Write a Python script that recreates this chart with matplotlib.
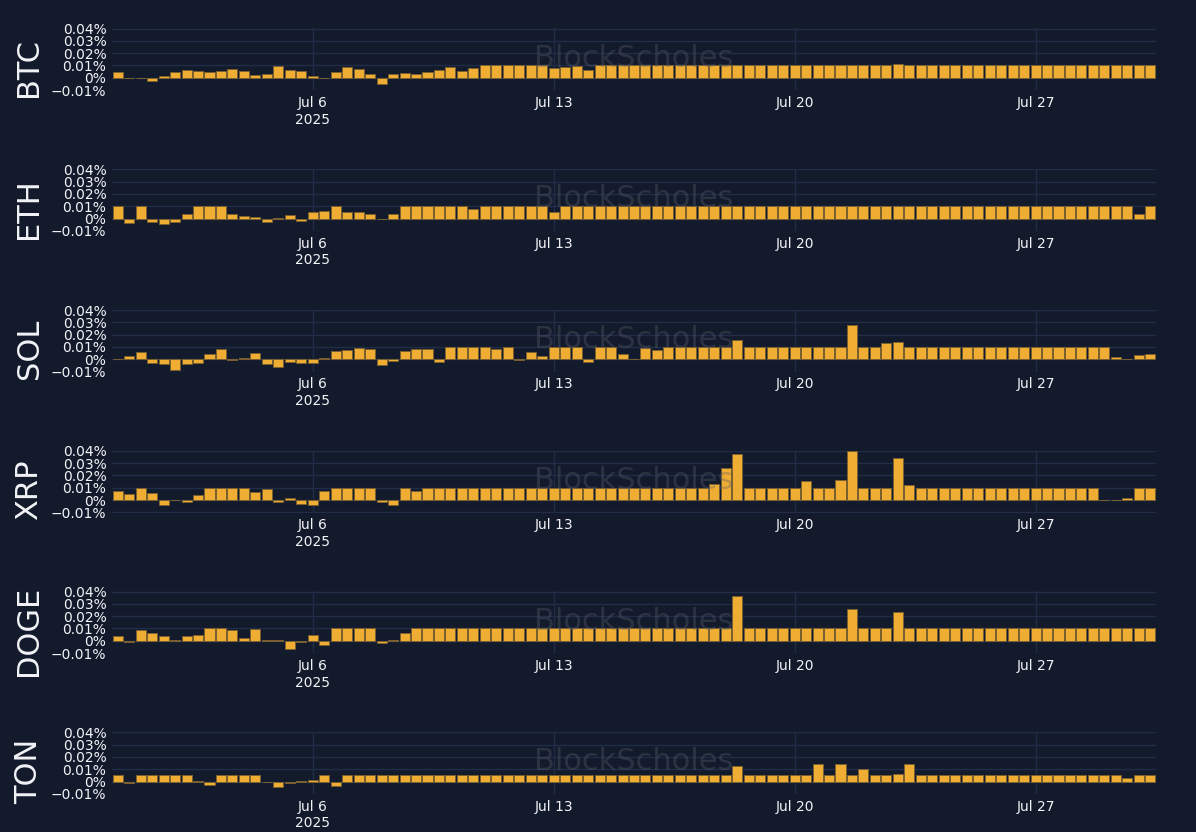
import numpy as np
import pandas as pd
import matplotlib
matplotlib.use("Agg")
import matplotlib.pyplot as plt

# funding rates in %, one value every 8h
times = pd.date_range("2025-06-30 08:00", periods=91, freq="8h")

btc = [0.005, -0.0005, -0.0002, -0.0024, 0.0016, 0.0047, 0.0063, 0.0055, 0.005, 0.0058,
       0.0068, 0.0055, 0.0024, 0.003, 0.0097, 0.0066, 0.0058, 0.0016, -0.0002, 0.0047,
       0.0084, 0.0068, 0.003, -0.005, 0.0034, 0.0037, 0.0034, 0.0045, 0.0066, 0.0084,
       0.0058, 0.0076, 0.01, 0.01, 0.01, 0.01, 0.01, 0.01, 0.0076, 0.0087,
       0.0092, 0.006, 0.01, 0.01, 0.01, 0.01, 0.01, 0.01, 0.01, 0.01,
       0.01, 0.01, 0.01, 0.01, 0.01, 0.01, 0.01, 0.01, 0.01, 0.01,
       0.01, 0.01, 0.01, 0.01, 0.01, 0.01, 0.01, 0.01, 0.0113, 0.01,
       0.01, 0.01, 0.01, 0.01, 0.01, 0.01, 0.01, 0.01, 0.01, 0.01,
       0.01, 0.01, 0.01, 0.01, 0.01, 0.01, 0.01, 0.01, 0.01, 0.01, 0.01]

eth = [0.01, -0.0037, 0.01, -0.003, -0.0047, -0.0026, 0.0037, 0.01, 0.01, 0.01,
       0.004, 0.0018, 0.0013, -0.003, 0.0005, 0.003, -0.0024, 0.005, 0.006, 0.01,
       0.0055, 0.005, 0.004, -0.0003, 0.004, 0.01, 0.01, 0.01, 0.01, 0.01,
       0.01, 0.008, 0.01, 0.01, 0.01, 0.01, 0.01, 0.01, 0.0053, 0.01,
       0.01, 0.01, 0.01, 0.01, 0.01, 0.01, 0.01, 0.01, 0.01, 0.01,
       0.01, 0.01, 0.01, 0.01, 0.01, 0.01, 0.01, 0.01, 0.01, 0.01,
       0.01, 0.01, 0.01, 0.01, 0.01, 0.01, 0.01, 0.01, 0.01, 0.01,
       0.01, 0.01, 0.01, 0.01, 0.01, 0.01, 0.01, 0.01, 0.01, 0.01,
       0.01, 0.01, 0.01, 0.01, 0.01, 0.01, 0.01, 0.01, 0.01, 0.004, 0.01]

sol = [0.0003, 0.0024, 0.0063, -0.003, -0.004, -0.0084, -0.0037, -0.003, 0.0042, 0.0087,
       -0.001, 0.0013, 0.0047, -0.004, -0.006, -0.0026, -0.003, -0.003, 0.0008, 0.0066,
       0.0074, 0.0095, 0.008, -0.0047, -0.0018, 0.0066, 0.0084, 0.0084, -0.0024, 0.01,
       0.01, 0.01, 0.01, 0.008, 0.01, -0.0008, 0.0058, 0.003, 0.01, 0.01,
       0.01, -0.002, 0.01, 0.01, 0.0042, 0.0005, 0.009, 0.0074, 0.01, 0.01,
       0.01, 0.01, 0.01, 0.01, 0.0153, 0.01, 0.01, 0.01, 0.01, 0.01,
       0.01, 0.01, 0.01, 0.01, 0.028, 0.01, 0.01, 0.013, 0.014, 0.01,
       0.01, 0.01, 0.01, 0.01, 0.01, 0.01, 0.01, 0.01, 0.01, 0.01,
       0.01, 0.01, 0.01, 0.01, 0.01, 0.01, 0.01, 0.0016, 0.0003, 0.0037, 0.0042]

xrp = [0.0073, 0.005, 0.01, 0.0057, -0.004, -0.0003, -0.002, 0.0038, 0.01, 0.01,
       0.01, 0.01, 0.0068, 0.0086, -0.002, 0.0013, -0.003, -0.0043, 0.007, 0.01,
       0.01, 0.01, 0.01, -0.0016, -0.0038, 0.01, 0.0073, 0.01, 0.01, 0.01,
       0.01, 0.01, 0.01, 0.01, 0.01, 0.01, 0.01, 0.01, 0.01, 0.01,
       0.01, 0.01, 0.01, 0.01, 0.01, 0.01, 0.01, 0.01, 0.01, 0.01,
       0.01, 0.01, 0.013, 0.0257, 0.0378, 0.01, 0.01, 0.01, 0.01, 0.01,
       0.0157, 0.01, 0.01, 0.0165, 0.0398, 0.01, 0.01, 0.01, 0.0343, 0.0124,
       0.01, 0.01, 0.01, 0.01, 0.01, 0.01, 0.01, 0.01, 0.01, 0.01,
       0.01, 0.01, 0.01, 0.01, 0.01, 0.01, 0.0002, -0.0003, 0.002, 0.01, 0.01]

doge = [0.004, -0.001, 0.0086, 0.006, 0.0035, 0.0005, 0.0038, 0.0043, 0.01, 0.01,
        0.0084, 0.0019, 0.0092, 0.001, 0.001, -0.0065, -0.0014, 0.0043, -0.0038, 0.01,
        0.01, 0.01, 0.01, -0.0022, 0.001, 0.006, 0.01, 0.01, 0.01, 0.01,
        0.01, 0.01, 0.01, 0.01, 0.01, 0.01, 0.01, 0.01, 0.01, 0.01,
        0.01, 0.01, 0.01, 0.01, 0.01, 0.01, 0.01, 0.01, 0.01, 0.01,
        0.01, 0.01, 0.01, 0.01, 0.036, 0.01, 0.01, 0.01, 0.01, 0.01,
        0.01, 0.01, 0.01, 0.01, 0.026, 0.01, 0.01, 0.01, 0.0235, 0.01,
        0.01, 0.01, 0.01, 0.01, 0.01, 0.01, 0.01, 0.01, 0.01, 0.01,
        0.01, 0.01, 0.01, 0.01, 0.01, 0.01, 0.01, 0.01, 0.01, 0.01, 0.01]

ton = [0.005, -0.0016, 0.005, 0.005, 0.005, 0.005, 0.005, 0.0003, -0.003, 0.005,
       0.005, 0.005, 0.005, -0.0005, -0.0043, -0.0016, 0.0008, 0.0013, 0.005, -0.0038,
       0.005, 0.005, 0.005, 0.005, 0.005, 0.005, 0.005, 0.005, 0.005, 0.005,
       0.005, 0.005, 0.005, 0.005, 0.005, 0.005, 0.005, 0.005, 0.005, 0.005,
       0.005, 0.005, 0.005, 0.005, 0.005, 0.005, 0.005, 0.005, 0.005, 0.005,
       0.005, 0.005, 0.005, 0.005, 0.0127, 0.005, 0.005, 0.005, 0.005, 0.005,
       0.005, 0.014, 0.005, 0.0143, 0.005, 0.01, 0.005, 0.005, 0.0065, 0.0146,
       0.005, 0.005, 0.005, 0.005, 0.005, 0.005, 0.005, 0.005, 0.005, 0.005,
       0.005, 0.005, 0.005, 0.005, 0.005, 0.005, 0.005, 0.005, 0.003, 0.005, 0.005]

names = ["BTC", "ETH", "SOL", "XRP", "DOGE", "TON"]
series = [btc, eth, sol, xrp, doge, ton]

ytick_vals = [-0.01, 0.0, 0.01, 0.02, 0.03, 0.04]
ytick_labels = ["\u22120.01%", "0%", "0.01%", "0.02%", "0.03%", "0.04%"]
xtick_dates = pd.to_datetime(["2025-07-06", "2025-07-13", "2025-07-20", "2025-07-27"])
xtick_labels = ["Jul 6\n2025", "Jul 13", "Jul 20", "Jul 27"]

BG = "#131a2c"
GRID = "#212c47"
BAR = "#f0ad33"
EDGE = "#7a6030"
TXT = "#f2f3f6"

W, H = 1196.0, 832.0
fig = plt.figure(figsize=(W / 100, H / 100), dpi=100, facecolor=BG)

for k, (name, vals) in enumerate(zip(names, series)):
    top = 28.3 + 140.75 * k
    ax = fig.add_axes([112 / W, 1 - (top + 62) / H, 1044 / W, 62 / H])
    ax.set_facecolor(BG)
    ax.bar(times, np.array(vals), width=pd.Timedelta(hours=7), color=BAR,
           edgecolor=EDGE, linewidth=0.7, zorder=2)
    ax.set_xlim(times[0] - pd.Timedelta(hours=4), times[-1] + pd.Timedelta(hours=4))
    ax.set_ylim(-0.0102, 0.0402)
    ax.set_yticks(ytick_vals)
    ax.set_yticklabels(ytick_labels)
    ax.set_xticks(xtick_dates)
    ax.set_xticklabels(xtick_labels, linespacing=1.25)
    ax.grid(True, color=GRID, linewidth=1, zorder=0)
    ax.set_axisbelow(True)
    for s in ax.spines.values():
        s.set_visible(False)
    ax.tick_params(axis="both", length=0, colors=TXT, labelsize=10)
    ax.tick_params(axis="y", pad=4)
    ax.tick_params(axis="x", pad=4)
    ax.text(0.5, 0.52, "BlockScholes", transform=ax.transAxes, ha="center", va="center",
            fontsize=22, color="#5a5f6c", alpha=0.35, zorder=3)
    fig.text(29 / W, 1 - (top + 31 + 8.5) / H, name, rotation=90, ha="center",
             va="center", fontsize=22, color=TXT)

fig.savefig("out.png", dpi=100, facecolor=BG)
